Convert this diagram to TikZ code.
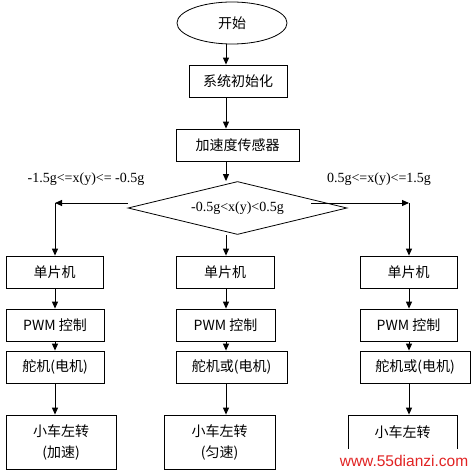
\documentclass[tikz,border=0pt]{standalone}
\usepackage{fontspec}
\setmainfont{Liberation Serif}
\newfontfamily\cjk{Noto Sans CJK SC}
\newfontfamily\wmfont{Liberation Sans}
\usetikzlibrary{shapes.geometric,arrows.meta}
\definecolor{wmred}{RGB}{225,35,35}
\begin{document}
\begin{tikzpicture}[x=1pt,y=-1pt,
    blk/.style={draw, line width=0.8pt, inner sep=0pt, minimum height=32pt,
      font=\cjk\fontsize{14}{21}\selectfont, align=center},
    arr/.style={line width=1pt, -{Triangle[length=7pt,width=6pt]}},
    cond/.style={font=\fontsize{14}{16}\selectfont, inner sep=0pt}]
  \useasboundingbox (0,0) rectangle (473,473);
  \coordinate (xl) at (55,0);
  \coordinate (xm) at (226,0);
  \coordinate (xr) at (409,0);
  \node[draw, ellipse, line width=0.8pt, minimum width=110pt, minimum height=42pt,
    font=\cjk\fontsize{14}{16}\selectfont] (start) at (232,23) {开始};
  \node[blk, minimum width=98pt] (init) at (238,81) {系统初始化};
  \node[blk, minimum width=123pt] (sens) at (237.5,145) {加速度传感器};
  \node[draw, diamond, aspect=4.13, line width=0.8pt, minimum width=219pt, minimum height=53pt,
    cond] (dec) at (237.5,208) {-0.5g<x(y)<0.5g};
  \node[cond] (lneg) at (86,179) {-1.5g<=x(y)<= -0.5g};
  \node[cond] (lpos) at (379,179) {0.5g<=x(y)<=1.5g};
  % left column
  \node[blk, minimum width=97pt] (l1) at (54.5,272) {单片机};
  \node[blk, minimum width=98pt] (l2) at (55,325) {PWM 控制};
  \node[blk, minimum width=98pt] (l3) at (55,367) {舵机(电机)};
  \node[blk, minimum width=110pt, minimum height=54pt] (l4) at (61,442) {小车左转\\(加速)};
  % middle column
  \node[blk, minimum width=98pt] (m1) at (225,272) {单片机};
  \node[blk, minimum width=99pt] (m2) at (225.5,325) {PWM 控制};
  \node[blk, minimum width=111pt] (m3) at (231.5,367) {舵机或(电机)};
  \node[blk, minimum width=111pt, minimum height=54pt] (m4) at (219.5,442) {小车左转\\(匀速)};
  % right column
  \node[blk, minimum width=97pt] (r1) at (408.5,272) {单片机};
  \node[blk, minimum width=97pt] (r2) at (408.5,325) {PWM 控制};
  \node[blk, minimum width=110pt] (r3) at (415,367) {舵机或(电机)};
  \node[blk, minimum width=109pt, minimum height=54pt] (r4) at (402.5,442) {小车左转\\\mbox{}};
  \node[fill=white, text=wmred, font=\wmfont\fontsize{15.5}{16}\selectfont,
    inner sep=0pt, minimum width=138pt, minimum height=24pt] (wm) at (404,461) {www.55dianzi.com};
  % connectors
  \draw[arr] (start.south -| xm) -- (init.north -| xm);
  \draw[arr] (init.south -| xm) -- (sens.north -| xm);
  \draw[arr] (sens.south -| xm) -- (dec.north -| xm);
  \coordinate (lc) at (55,203);
  \coordinate (rc) at (409,203);
  \draw[arr] ([yshift=5pt]dec.west) -- (lc);
  \draw[arr] (lc) -- (l1.north -| lc);
  \draw[arr] ([xshift=-36pt,yshift=5pt]dec.east) -- (rc);
  \draw[arr] (rc) -- (r1.north -| rc);
  \draw[arr] (dec.south -| xm) -- (m1.north -| xm);
  \foreach \c in {l,m,r}
    \foreach \i/\j in {1/2,2/3,3/4}
      \draw[arr] (\c\i.south -| x\c) -- (\c\j.north -| x\c);
\end{tikzpicture}
\end{document}
